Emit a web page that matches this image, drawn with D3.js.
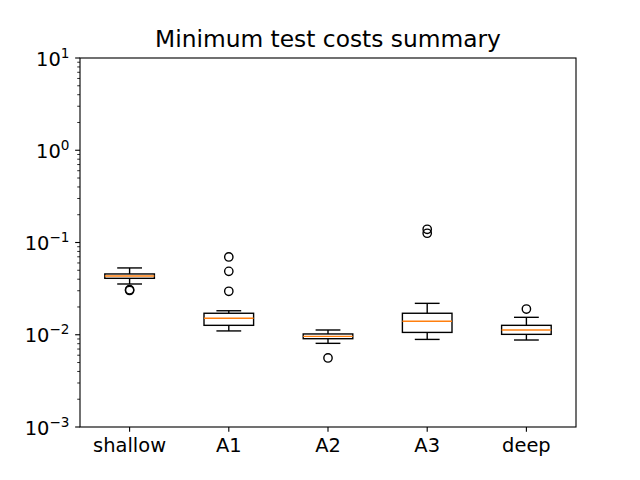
<!DOCTYPE html>
<html>
<head>
<meta charset="utf-8">
<script src="https://cdn.jsdelivr.net/npm/d3@7"></script>
<style>
  html, body { margin: 0; padding: 0; background: #fff; }
  svg { display: block; font-family: "DejaVu Sans", sans-serif; }
</style>
</head>
<body>
<svg id="chart" width="640" height="480"></svg>
<script>
const categories = ["shallow", "A1", "A2", "A3", "deep"];
const whiskerLow  = [0.0355, 0.0110, 0.00807, 0.0089, 0.00877];
const q1          = [0.0409, 0.01265, 0.00906, 0.0106, 0.0101];
const median      = [0.0433, 0.0151, 0.0096, 0.0140, 0.01126];
const q3          = [0.0456, 0.0171, 0.0102, 0.0171, 0.01265];
const whiskerHigh = [0.0530, 0.0182, 0.01126, 0.0219, 0.01545];
const outliers = [
  [0.0308, 0.0302],
  [0.0697, 0.0487, 0.0296],
  [0.0056],
  [0.139, 0.126],
  [0.0190]
];
const yTicks = [1e-3, 1e-2, 1e-1, 1e0, 1e1];
const yTickExp = ["\u22123", "\u22122", "\u22121", "0", "1"];
const title = "Minimum test costs summary";

const W = 640, H = 480;
const m = { left: 80, right: 576, top: 58, bottom: 427 };
const svg = d3.select("#chart");

const x = d3.scaleLinear().domain([0.5, 5.5]).range([m.left, m.right]);
const y = d3.scaleLog().domain([1e-3, 1e1]).range([m.bottom, m.top]);

const lw = 1.39;
const boxW = x(1.25) - x(1);   // half-width 0.25
const capW = x(1.125) - x(1);  // half-width 0.125

const g = svg.append("g");

categories.forEach((c, i) => {
  const cx = x(i + 1);
  // whiskers
  g.append("line").attr("x1", cx).attr("x2", cx)
    .attr("y1", y(q1[i])).attr("y2", y(whiskerLow[i]))
    .attr("stroke", "#000").attr("stroke-width", lw);
  g.append("line").attr("x1", cx).attr("x2", cx)
    .attr("y1", y(q3[i])).attr("y2", y(whiskerHigh[i]))
    .attr("stroke", "#000").attr("stroke-width", lw);
  // caps
  [whiskerLow[i], whiskerHigh[i]].forEach(v => {
    g.append("line").attr("x1", cx - capW).attr("x2", cx + capW)
      .attr("y1", y(v)).attr("y2", y(v))
      .attr("stroke", "#000").attr("stroke-width", lw);
  });
  // box
  g.append("rect").attr("x", cx - boxW).attr("width", 2 * boxW)
    .attr("y", y(q3[i])).attr("height", y(q1[i]) - y(q3[i]))
    .attr("fill", "none").attr("stroke", "#000").attr("stroke-width", lw);
  // median
  g.append("line").attr("x1", cx - boxW).attr("x2", cx + boxW)
    .attr("y1", y(median[i])).attr("y2", y(median[i]))
    .attr("stroke", "#ff7f0e").attr("stroke-width", lw);
  // fliers
  outliers[i].forEach(v => {
    g.append("circle").attr("cx", cx).attr("cy", y(v)).attr("r", 4.17)
      .attr("fill", "none").attr("stroke", "#000").attr("stroke-width", lw);
  });
});

// axes frame
svg.append("rect").attr("x", m.left).attr("y", m.top)
  .attr("width", m.right - m.left).attr("height", m.bottom - m.top)
  .attr("fill", "none").attr("stroke", "#000").attr("stroke-width", 1.11);

// y major ticks
const ax = svg.append("g");
yTicks.forEach((t, i) => {
  const ty = y(t);
  ax.append("line").attr("x1", m.left - 4.86).attr("x2", m.left)
    .attr("y1", ty).attr("y2", ty).attr("stroke", "#000").attr("stroke-width", 1.11);
  const txt = ax.append("text").attr("x", m.left - 10.5).attr("y", ty + 7.5)
    .attr("text-anchor", "end").attr("font-size", 19.44).attr("fill", "#000");
  txt.append("tspan").text("10");
  txt.append("tspan").attr("dy", -8).attr("font-size", 13.6).text(yTickExp[i]);
});
// y minor ticks
for (let d = -3; d < 1; d++) {
  for (let k = 2; k <= 9; k++) {
    const v = k * Math.pow(10, d);
    const ty = y(v);
    ax.append("line").attr("x1", m.left - 2.78).attr("x2", m.left)
      .attr("y1", ty).attr("y2", ty).attr("stroke", "#000").attr("stroke-width", 0.83);
  }
}
// x ticks
categories.forEach((c, i) => {
  const tx = x(i + 1);
  ax.append("line").attr("x1", tx).attr("x2", tx)
    .attr("y1", m.bottom).attr("y2", m.bottom + 4.86)
    .attr("stroke", "#000").attr("stroke-width", 1.11);
  ax.append("text").attr("x", tx).attr("y", 451.5)
    .attr("text-anchor", "middle").attr("font-size", 19.44).attr("fill", "#000").text(c);
});

// title
svg.append("text").attr("x", (m.left + m.right) / 2).attr("y", 47)
  .attr("text-anchor", "middle").attr("font-size", 23.33).attr("fill", "#000").text(title);
</script>
</body>
</html>
